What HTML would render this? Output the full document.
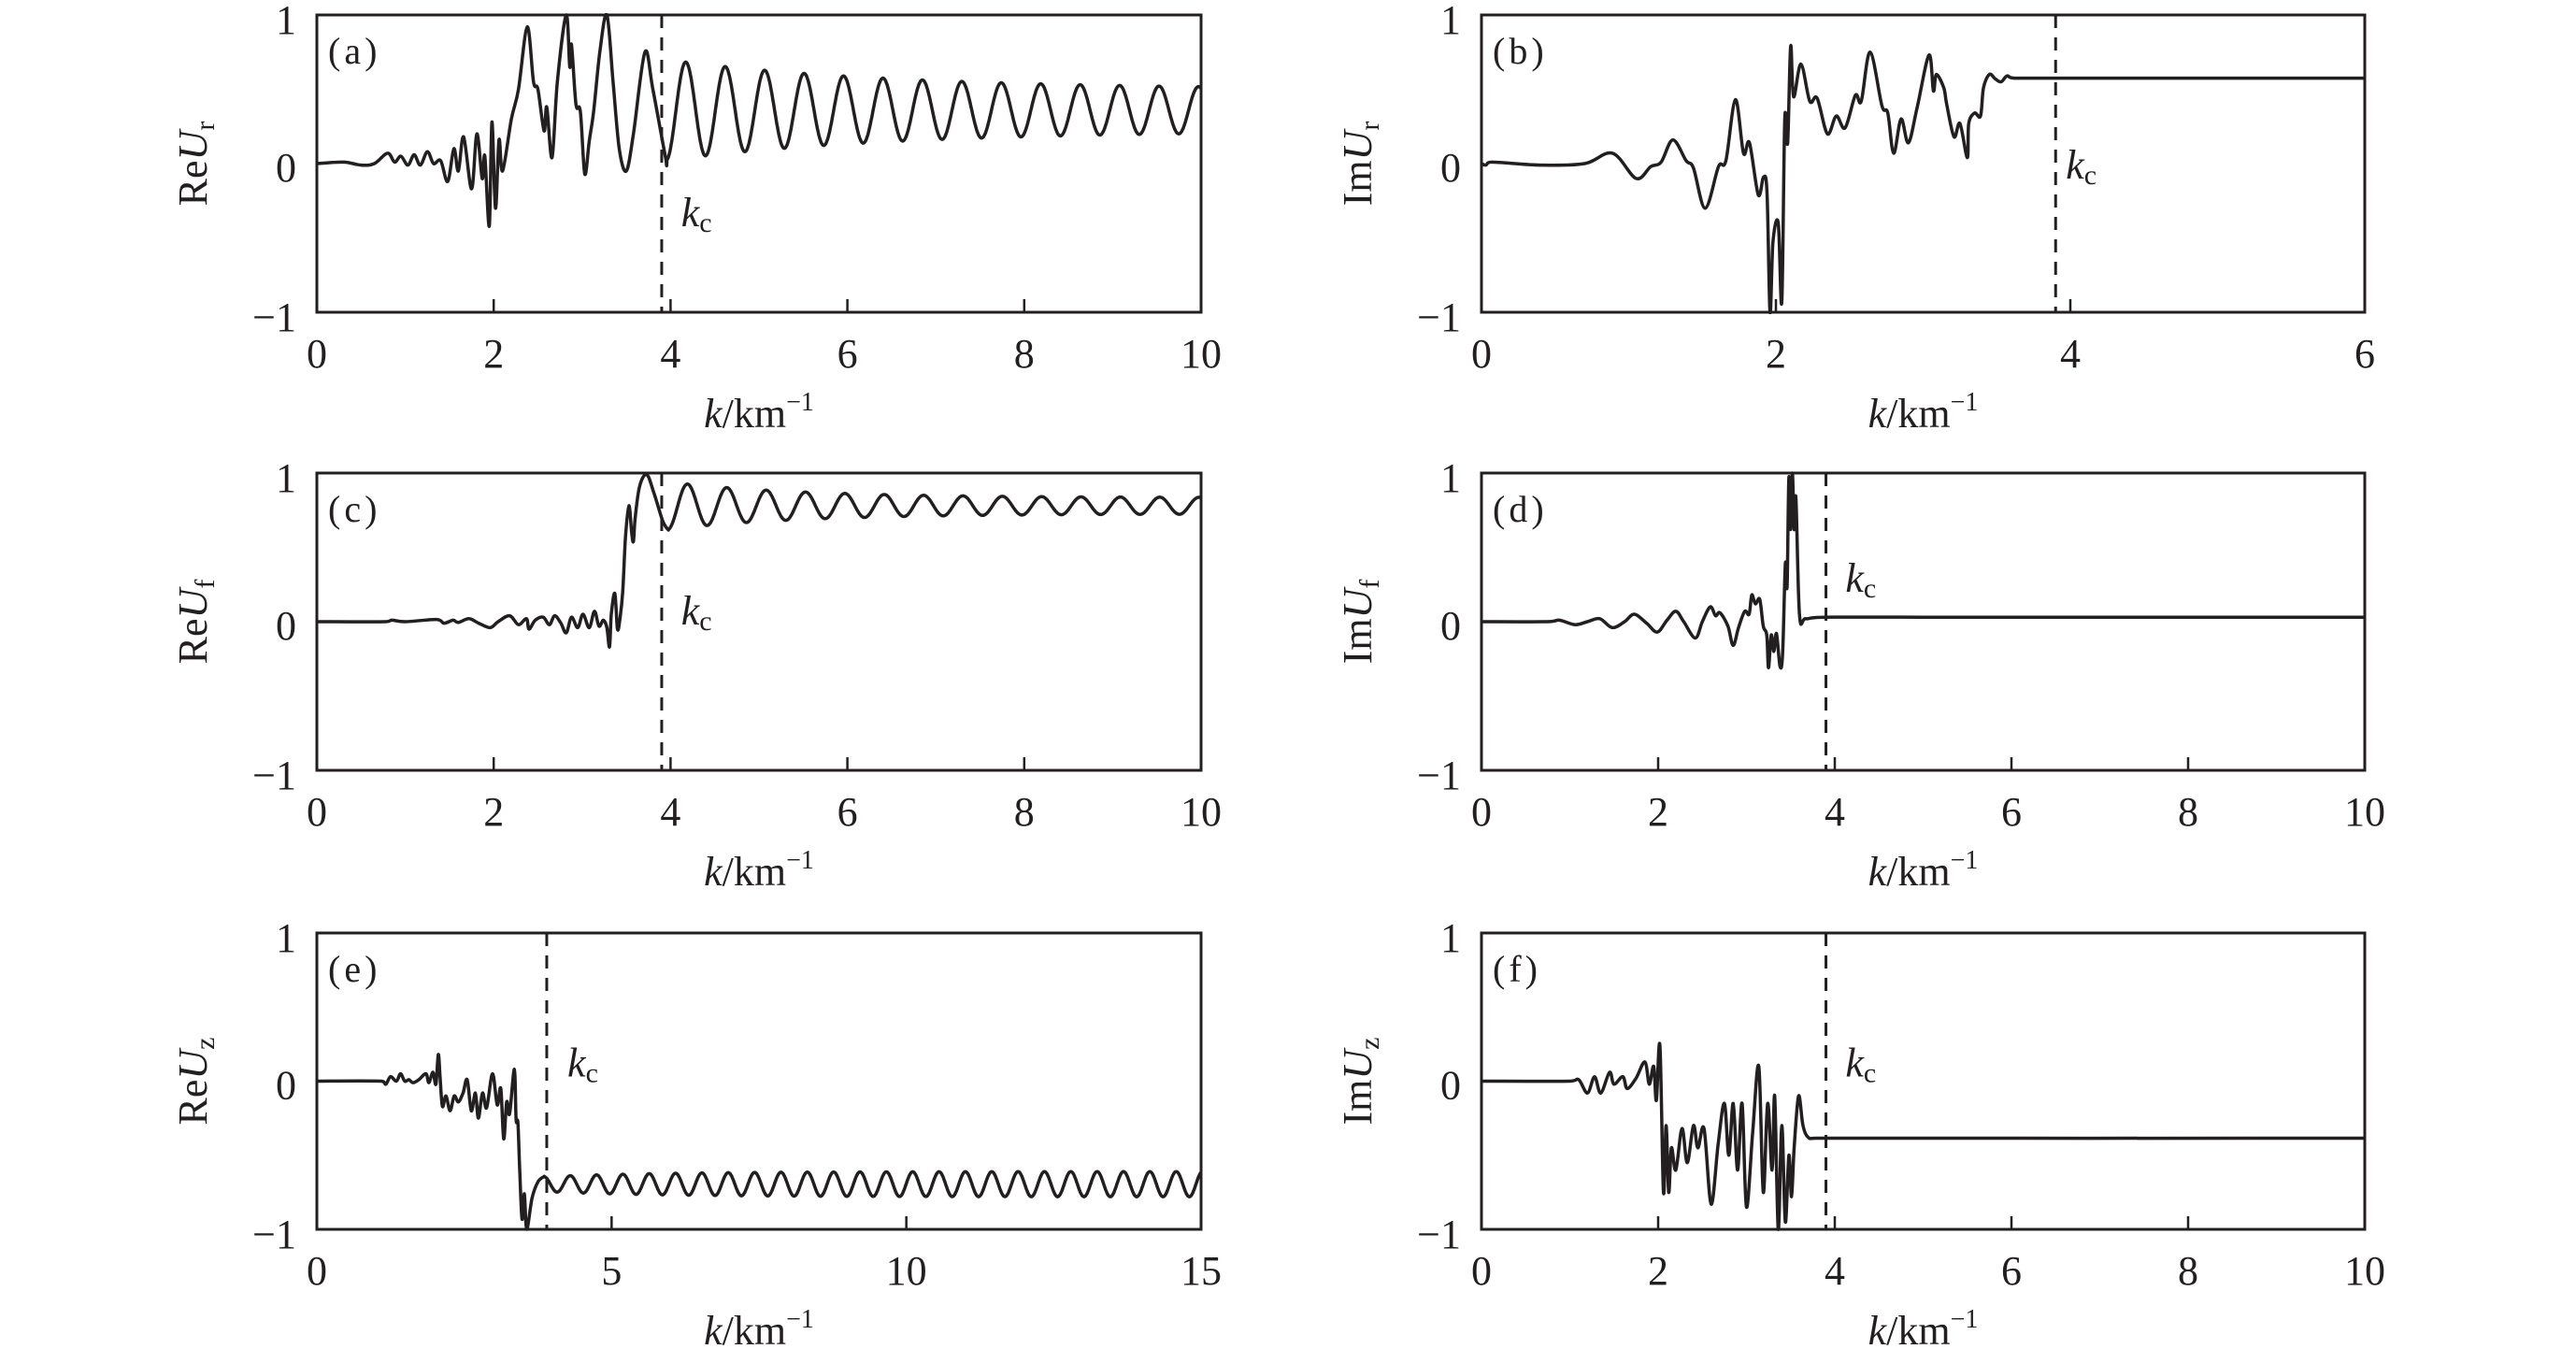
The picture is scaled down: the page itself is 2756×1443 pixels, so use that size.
<!DOCTYPE html>
<html><head><meta charset="utf-8"><style>
html,body{margin:0;padding:0;background:#fff;}
svg{display:block;}
text{font-family:"Liberation Serif",serif;fill:#231f20;}
</style></head><body>
<svg id="s" xmlns="http://www.w3.org/2000/svg" width="2756" height="1443" viewBox="0 0 2756 1443"></svg>
<script>
function sine(from,to,pk,P,C,Af,sign){var r=[];for(var x=from;x<=to+1e-9;x+=0.01){r.push([x,C+sign*Af(x)*Math.cos(2*Math.PI*(x-pk)/P)]);}return r;}
var pa=[[0,0],[0.3,0.01],[0.5,-0.01],[0.65,0],[0.8,0.07],[0.88,0.01],[0.95,0.05],[1.03,-0.01],[1.1,0.06],[1.17,-0.01],[1.25,0.08],[1.32,0.0],[1.4,0.02],[1.48,-0.12],[1.55,0.1],[1.6,-0.05],[1.66,0.18],[1.75,-0.17],[1.81,0.2],[1.87,-0.1],[1.9,0.05],[1.95,-0.42],[1.98,0.28],[2.02,-0.3],[2.06,0.16],[2.1,-0.05],[2.2,0.3],[2.28,0.5],[2.38,0.92],[2.45,0.55],[2.5,0.5],[2.57,0.22],[2.6,0.38],[2.66,0.04],[2.72,0.55],[2.82,1.0],[2.86,0.65],[2.88,0.8],[2.93,0.4],[2.98,0.35],[3.03,-0.07],[3.08,0.15],[3.13,0.35],[3.2,0.75],[3.28,1.0],[3.35,0.55],[3.42,0.1],[3.5,-0.05],[3.58,0.2],[3.71,0.75],[3.8,0.5]];
pa=pa.concat(sine(3.95,10,3.95,0.446,0.36,function(x){return 0.14+0.2*Math.exp(-(x-3.95)/2.5);},-1));
var pb=[[0,0],[0.03,-0.01],[0.07,0.01],[0.4,-0.01],[0.7,0],[0.89,0.07],[1.05,-0.1],[1.15,-0.02],[1.22,0.01],[1.3,0.16],[1.39,0.02],[1.44,-0.03],[1.52,-0.3],[1.61,-0.02],[1.66,0.02],[1.725,0.43],[1.78,0.07],[1.82,0.14],[1.88,-0.21],[1.916,-0.09],[1.94,-0.2],[1.96,-1.0],[1.98,-0.53],[2.016,-0.4],[2.04,-0.93],[2.06,0.3],[2.08,0.14],[2.1,0.79],[2.12,0.45],[2.17,0.67],[2.23,0.42],[2.28,0.44],[2.35,0.2],[2.41,0.32],[2.47,0.24],[2.54,0.46],[2.58,0.42],[2.64,0.75],[2.72,0.39],[2.76,0.34],[2.8,0.07],[2.85,0.3],[2.9,0.14],[2.96,0.38],[3.04,0.73],[3.07,0.49],[3.09,0.6],[3.14,0.51],[3.16,0.4],[3.21,0.18],[3.25,0.27],[3.3,0.04],[3.31,0.27],[3.35,0.34],[3.39,0.32],[3.41,0.51],[3.45,0.6],[3.49,0.57],[3.53,0.55],[3.57,0.59],[3.62,0.575],[4.5,0.575],[6,0.575]];
var pc=[[0,0],[0.77,0],[0.85,0.01],[1.0,0],[1.35,0.015],[1.44,-0.01],[1.54,0.01],[1.6,-0.005],[1.72,0.02],[1.83,-0.01],[1.96,-0.04],[2.05,0],[2.18,0.04],[2.28,-0.02],[2.37,0.02],[2.4,-0.05],[2.47,0.01],[2.56,0.03],[2.63,-0.02],[2.69,0.04],[2.76,-0.01],[2.82,-0.075],[2.88,0.03],[2.95,-0.04],[3.01,0.05],[3.08,-0.04],[3.14,0.07],[3.19,-0.03],[3.24,0.01],[3.28,-0.04],[3.31,-0.17],[3.33,0.05],[3.37,0.19],[3.4,-0.05],[3.43,0.03],[3.46,0.21],[3.49,0.57],[3.53,0.78],[3.56,0.6],[3.58,0.54],[3.6,0.7],[3.65,0.91],[3.73,0.99],[3.81,0.87],[3.91,0.68]];
pc=pc.concat(sine(3.97,10,3.97,0.445,0.78,function(x){return 0.055+0.105*Math.exp(-(x-3.97)/1.5);},-1));
var pd=[[0,0],[0.74,0],[0.88,0.01],[1.06,-0.02],[1.2,0],[1.34,0.02],[1.48,-0.04],[1.62,0],[1.73,0.05],[1.87,-0.01],[1.99,-0.07],[2.1,0.01],[2.2,0.07],[2.29,0],[2.42,-0.11],[2.5,0],[2.59,0.1],[2.65,0.04],[2.7,0.06],[2.79,-0.03],[2.85,-0.16],[2.91,-0.04],[2.98,0.07],[3.03,0.05],[3.06,0.18],[3.1,0.12],[3.15,0.15],[3.19,-0.03],[3.23,-0.09],[3.25,-0.31],[3.28,-0.09],[3.31,-0.2],[3.34,-0.08],[3.38,-0.3],[3.41,-0.21],[3.44,0.39],[3.46,0.24],[3.48,0.97],[3.5,0.62],[3.52,1.0],[3.54,0.62],[3.56,0.83],[3.6,0.05],[3.67,0.02],[3.88,0.03],[5,0.03],[10,0.03]];
var pe=[[0,0],[1.1,0],[1.17,-0.02],[1.25,0.03],[1.35,0],[1.42,0.05],[1.49,0],[1.56,0.01],[1.63,-0.01],[1.73,0.01],[1.85,0.05],[1.9,-0.01],[1.97,0.06],[2.02,-0.02],[2.06,0.18],[2.09,0.03],[2.13,-0.17],[2.19,-0.1],[2.26,-0.2],[2.33,-0.1],[2.4,-0.14],[2.48,-0.08],[2.55,0.01],[2.62,-0.2],[2.69,-0.08],[2.74,-0.25],[2.81,-0.08],[2.88,-0.18],[2.98,0.05],[3.06,-0.16],[3.12,-0.05],[3.17,-0.39],[3.22,-0.14],[3.27,-0.22],[3.35,0.08],[3.38,-0.26],[3.41,-0.28],[3.44,-0.58],[3.48,-0.93],[3.52,-0.76],[3.56,-1.0],[3.65,-0.79],[3.75,-0.68]];
pe=pe.concat(sine(3.85,15,3.85,0.447,-0.695,function(x){return 0.085-0.035*Math.exp(-(x-3.85)/2);},1));
var pf=[[0,0],[1.0,0],[1.1,0.01],[1.2,-0.08],[1.28,0.03],[1.35,-0.08],[1.45,0.06],[1.5,-0.02],[1.6,0.03],[1.65,-0.05],[1.75,0.02],[1.85,0.13],[1.9,-0.02],[1.95,0.1],[1.98,-0.13],[2.02,0.24],[2.06,-0.75],[2.09,-0.3],[2.12,-0.75],[2.15,-0.45],[2.2,-0.6],[2.27,-0.32],[2.33,-0.55],[2.4,-0.3],[2.45,-0.45],[2.52,-0.32],[2.6,-0.83],[2.68,-0.42],[2.75,-0.15],[2.8,-0.5],[2.85,-0.15],[2.9,-0.6],[2.95,-0.15],[3.0,-0.85],[3.07,-0.35],[3.14,0.1],[3.19,-0.75],[3.24,-0.15],[3.29,-0.6],[3.32,-0.1],[3.36,-1.0],[3.4,-0.3],[3.44,-0.95],[3.48,-0.5],[3.51,-0.78],[3.54,-0.45],[3.59,-0.1],[3.64,-0.3],[3.7,-0.38],[3.8,-0.385],[10,-0.385]];

var L=[339,1285],R=[1585,2530],rows=[[16,334],[506,824],[998,1315]];
var P=[
{c:L,r:rows[0],xm:10,t:[0,2,4,6,8,10],lab:'a',yl:['Re','r'],kc:3.9,kl:[4.12,-0.42],d:pa},
{c:R,r:rows[0],xm:6,t:[0,2,4,6],lab:'b',yl:['Im','r'],kc:3.9,kl:[3.97,-0.1],d:pb},
{c:L,r:rows[1],xm:10,t:[0,2,4,6,8,10],lab:'c',yl:['Re','f'],kc:3.9,kl:[4.12,-0.02],d:pc},
{c:R,r:rows[1],xm:10,t:[0,2,4,6,8,10],lab:'d',yl:['Im','f'],kc:3.9,kl:[4.12,0.2],d:pd},
{c:L,r:rows[2],xm:15,t:[0,5,10,15],lab:'e',yl:['Re','z'],kc:3.9,kl:[4.25,0.03],d:pe},
{c:R,r:rows[2],xm:10,t:[0,2,4,6,8,10],lab:'f',yl:['Im','z'],kc:3.9,kl:[4.12,0.03],d:pf}];
var h='<defs>';
P.forEach(function(p,i){h+='<clipPath id="c'+i+'"><rect x="'+p.c[0]+'" y="'+(p.r[0]-2)+'" width="'+(p.c[1]-p.c[0])+'" height="'+(p.r[1]-p.r[0]+4)+'"/></clipPath>';});
h+='</defs>';
P.forEach(function(p,idx){
 var x0=p.c[0],x1=p.c[1],y0=p.r[0],y1=p.r[1],ym=(y0+y1)/2,hh=(y1-y0)/2;
 function X(x){return x0+x/p.xm*(x1-x0);} function Y(v){return ym-v*hh;}
 h+='<rect x="'+x0+'" y="'+y0+'" width="'+(x1-x0)+'" height="'+(y1-y0)+'" fill="none" stroke="#231f20" stroke-width="3"/>';
 p.t.forEach(function(t){var xx=X(t);
  if(t>0&&t<p.xm)h+='<line x1="'+xx+'" y1="'+y1+'" x2="'+xx+'" y2="'+(y1-14)+'" stroke="#231f20" stroke-width="2.5"/>';
  h+='<text x="'+xx+'" y="'+(y1+59)+'" font-size="44" text-anchor="middle">'+t+'</text>';});
 h+='<text x="'+(x0-22)+'" y="'+(y0+20)+'" font-size="44" text-anchor="end">1</text>';
 h+='<text x="'+(x0-22)+'" y="'+(ym+19)+'" font-size="44" text-anchor="end">0</text>';
 h+='<text x="'+(x0-22)+'" y="'+(y1+20)+'" font-size="44" text-anchor="end">−1</text>';
 h+='<text x="'+((x0+x1)/2)+'" y="'+(y1+123)+'" font-size="44" text-anchor="middle"><tspan font-style="italic">k</tspan>/km<tspan font-size="28" dy="-18">−1</tspan></text>';
 var lx=x0-118;
 h+='<text transform="translate('+lx+','+ym+') rotate(-90)" font-size="44" text-anchor="middle">'+p.yl[0]+'<tspan font-style="italic">U</tspan><tspan font-size="30" dy="8">'+p.yl[1]+'</tspan></text>';
 h+='<text x="'+(x0+12)+'" y="'+(y0+52)+'" font-size="40">(<tspan dx="4">'+p.lab+'</tspan><tspan dx="4">)</tspan></text>';
 var kx=X(p.kc);
 h+='<line x1="'+kx+'" y1="'+y0+'" x2="'+kx+'" y2="'+y1+'" stroke="#231f20" stroke-width="3" stroke-dasharray="14 10"/>';
 h+='<text x="'+X(p.kl[0])+'" y="'+Y(p.kl[1])+'" font-size="44"><tspan font-style="italic">k</tspan><tspan font-size="30" dy="6">c</tspan></text>';
 var pts=p.d.map(function(q){return [X(q[0]),Y(q[1])];});
 var s='M'+pts[0][0].toFixed(1)+' '+pts[0][1].toFixed(1);
 for(var i=0;i<pts.length-1;i++){
  var a=pts[i>0?i-1:i],b=pts[i],c=pts[i+1],d=pts[i+2<pts.length?i+2:i+1];
  var c1x=b[0]+(c[0]-a[0])/6,c1y=b[1]+(c[1]-a[1])/6,c2x=c[0]-(d[0]-b[0])/6,c2y=c[1]-(d[1]-b[1])/6;
  c1x=Math.min(Math.max(c1x,b[0]),c[0]);c2x=Math.min(Math.max(c2x,b[0]),c[0]);
  s+='C'+c1x.toFixed(1)+' '+c1y.toFixed(1)+' '+c2x.toFixed(1)+' '+c2y.toFixed(1)+' '+c[0].toFixed(1)+' '+c[1].toFixed(1);
 }
 h+='<path clip-path="url(#c'+idx+')" d="'+s+'" fill="none" stroke="#231f20" stroke-width="3.5" stroke-linejoin="round"/>';
});
document.getElementById('s').innerHTML=h;
</script>
</body></html>
